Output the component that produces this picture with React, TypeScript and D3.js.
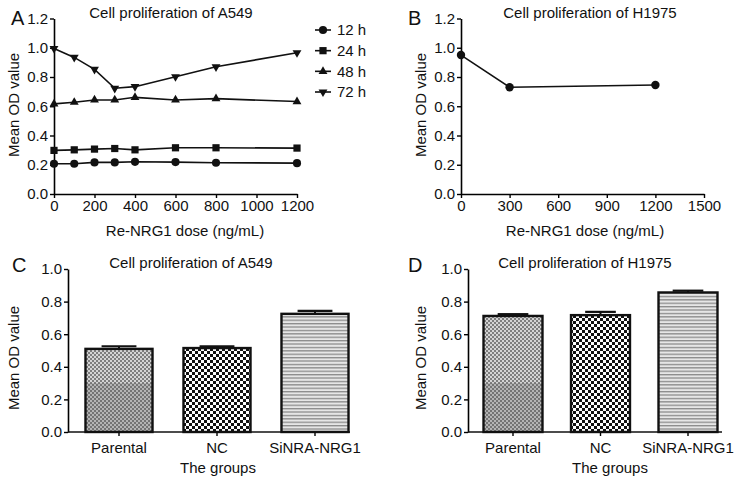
import { useEffect, useRef } from 'react';
import * as d3 from 'd3';

// ---- data ----
const doseA = [0, 100, 200, 300, 400, 600, 800, 1200];
const od12h = [0.207, 0.207, 0.216, 0.216, 0.22, 0.218, 0.214, 0.211];
const od24h = [0.298, 0.302, 0.307, 0.311, 0.302, 0.316, 0.316, 0.314];
const od48h = [0.616, 0.627, 0.643, 0.643, 0.661, 0.643, 0.652, 0.632];
const od72h = [0.995, 0.934, 0.852, 0.723, 0.734, 0.802, 0.87, 0.966];
const seriesNames = ['12 h', '24 h', '48 h', '72 h'];

const doseB = [0, 300, 1200];
const odB = [0.95, 0.73, 0.745];

const groups = ['Parental', 'NC', 'SiNRA-NRG1'];
const meanC = [0.51, 0.515, 0.725];
const errC = [0.016, 0.011, 0.018];
const meanD = [0.712, 0.717, 0.856];
const errD = [0.011, 0.02, 0.011];

const ticksA = [0, 200, 400, 600, 800, 1000, 1200];
const ticksB = [0, 300, 600, 900, 1200, 1500];
const ticksY12 = [0, 0.2, 0.4, 0.6, 0.8, 1.0, 1.2];
const ticksY10 = [0, 0.2, 0.4, 0.6, 0.8, 1.0];
const parentalShadeBelow = 0.3;

const FONT = '"Liberation Sans", Arial, Helvetica, sans-serif';
const FS = 15;

const App = () => {
  const svgRef = useRef<SVGSVGElement>(null);

  useEffect(() => {
    const svg = d3.select(svgRef.current);
    svg.selectAll('*').remove();
    svg.attr('font-family', FONT);

    // ==========================================
    // PATTERNS
    // ==========================================
    const defs = svg.append('defs');

    const checker = (id, size, bg, fg) => {
      const p = defs.append('pattern').attr('id', id)
        .attr('width', size * 2).attr('height', size * 2).attr('patternUnits', 'userSpaceOnUse');
      p.append('rect').attr('width', size * 2).attr('height', size * 2).attr('fill', bg);
      p.append('rect').attr('width', size).attr('height', size).attr('fill', fg);
      p.append('rect').attr('x', size).attr('y', size).attr('width', size).attr('height', size).attr('fill', fg);
    };
    checker('fine', 2, '#d4d4d4', '#7e7e7e');
    checker('fineDark', 2, '#b4b4b4', '#747474');
    checker('check', 3, '#ffffff', '#111');

    const stripes = defs.append('pattern').attr('id', 'stripes')
      .attr('width', 6).attr('height', 3.4).attr('patternUnits', 'userSpaceOnUse');
    stripes.append('rect').attr('width', 6).attr('height', 3.4).attr('fill', '#e6e6e6');
    stripes.append('rect').attr('y', 0).attr('width', 6).attr('height', 1.3).attr('fill', '#8a8a8a');

    const fills = ['url(#fine)', 'url(#check)', 'url(#stripes)'];

    // ==========================================
    // HELPERS
    // ==========================================
    const styleAxis = (g) => {
      g.select('.domain').attr('stroke-width', 1.6);
      g.selectAll('.tick line').attr('stroke-width', 1.4);
      g.selectAll('text').attr('font-size', FS).attr('fill', '#111');
    };

    const yAxis = (y, x0, ticks) => {
      const g = svg.append('g').attr('transform', `translate(${x0},0)`)
        .call(d3.axisLeft(y).tickValues(ticks).tickFormat(d3.format('.1f')).tickSize(4).tickSizeOuter(0).tickPadding(2));
      styleAxis(g);
    };

    const xAxis = (x, y0, ticks) => {
      const g = svg.append('g').attr('transform', `translate(0,${y0})`)
        .call(d3.axisBottom(x).tickValues(ticks).tickFormat(d3.format('d')).tickSize(4).tickSizeOuter(0).tickPadding(2));
      styleAxis(g);
    };

    const label = (x, y, text, size = FS, anchor = 'middle', rotate = false) => {
      const t = svg.append('text').attr('font-size', size).attr('fill', '#111')
        .attr('text-anchor', anchor).text(text);
      if (rotate) t.attr('transform', `translate(${x},${y}) rotate(-90)`);
      else t.attr('x', x).attr('y', y);
    };

    const symbols = [d3.symbolCircle, d3.symbolSquare, d3.symbolTriangle, d3.symbolTriangle];
    const symSizes = [52, 52, 34, 34];

    // ==========================================
    // PANEL A
    // ==========================================
    const xA = d3.scaleLinear().domain([0, 1200]).range([54, 297]);
    const yA = d3.scaleLinear().domain([0, 1.2]).range([194, 18.5]);

    xAxis(xA, yA(0), ticksA);
    yAxis(yA, xA(0), ticksY12);

    const seriesA = [od12h, od24h, od48h, od72h];
    const lineA = d3.line<number>().x((_, i) => xA(doseA[i])).y((d) => yA(d));
    seriesA.forEach((vals, s) => {
      svg.append('path').attr('d', lineA(vals)).attr('fill', 'none')
        .attr('stroke', '#111').attr('stroke-width', 1.6);
      svg.selectAll(null).data(vals).enter().append('path')
        .attr('d', d3.symbol().type(symbols[s]).size(symSizes[s])())
        .attr('transform', (d, i) => `translate(${xA(doseA[i])},${yA(d)})${s === 3 ? ' rotate(180)' : ''}`)
        .attr('fill', '#111');
    });

    // legend
    const legY = d3.scaleLinear().domain([0, 3]).range([30, 92]);
    seriesNames.forEach((name, s) => {
      const y = legY(s);
      svg.append('line').attr('x1', 315).attr('x2', 331).attr('y1', y).attr('y2', y)
        .attr('stroke', '#111').attr('stroke-width', 1.6);
      svg.append('path').attr('d', d3.symbol().type(symbols[s]).size(symSizes[s])())
        .attr('transform', `translate(323,${y})${s === 3 ? ' rotate(180)' : ''}`)
        .attr('fill', '#111');
      svg.append('text').attr('x', 337).attr('y', y).attr('dy', '0.36em')
        .attr('font-size', FS).attr('fill', '#111').text(name);
    });

    label(171, 18, 'Cell proliferation of A549');
    label(185, 236, 'Re-NRG1 dose (ng/mL)');
    label(19, 105, 'Mean OD value', FS, 'middle', true);
    label(11, 25, 'A', 20, 'start');

    // ==========================================
    // PANEL B
    // ==========================================
    const xB = d3.scaleLinear().domain([0, 1500]).range([461, 704]);
    const yB = d3.scaleLinear().domain([0, 1.2]).range([194, 18.5]);

    xAxis(xB, yB(0), ticksB);
    yAxis(yB, xB(0), ticksY12);

    const lineB = d3.line<number>().x((_, i) => xB(doseB[i])).y((d) => yB(d));
    svg.append('path').attr('d', lineB(odB)).attr('fill', 'none')
      .attr('stroke', '#111').attr('stroke-width', 1.6);
    svg.selectAll(null).data(odB).enter().append('circle')
      .attr('cx', (_, i) => xB(doseB[i])).attr('cy', (d) => yB(d)).attr('r', 4.2)
      .attr('fill', '#111');

    label(590, 18, 'Cell proliferation of H1975');
    label(585, 236, 'Re-NRG1 dose (ng/mL)');
    label(426, 105, 'Mean OD value', FS, 'middle', true);
    label(408, 25, 'B', 20, 'start');

    // ==========================================
    // BAR PANELS
    // ==========================================
    const barPanel = (means, errs, x0, x1, bandRange, pad, title, titleX, xLabelX, yLabelX, letter, letterX) => {
      const y = d3.scaleLinear().domain([0, 1]).range([432, 269]);
      const x = d3.scaleBand().domain(groups).range(bandRange).paddingInner(pad).paddingOuter(pad / 2);

      means.forEach((m, i) => {
        const bx = x(groups[i]);
        const bw = x.bandwidth();
        const cx = bx + bw / 2;
        svg.append('rect').attr('x', bx).attr('y', y(m)).attr('width', bw)
          .attr('height', y(0) - y(m)).attr('fill', fills[i]);
        if (i === 0) {
          svg.append('rect').attr('x', bx).attr('y', y(parentalShadeBelow)).attr('width', bw)
            .attr('height', y(0) - y(parentalShadeBelow)).attr('fill', 'url(#fineDark)');
        }
        svg.append('rect').attr('x', bx).attr('y', y(m)).attr('width', bw)
          .attr('height', y(0) - y(m)).attr('fill', 'none').attr('stroke', '#111').attr('stroke-width', 2.4);
        // error bar
        svg.append('line').attr('x1', cx).attr('x2', cx).attr('y1', y(m)).attr('y2', y(m + errs[i]))
          .attr('stroke', '#111').attr('stroke-width', 2);
        svg.append('line').attr('x1', cx - bw * 0.26).attr('x2', cx + bw * 0.26)
          .attr('y1', y(m + errs[i])).attr('y2', y(m + errs[i]))
          .attr('stroke', '#111').attr('stroke-width', 2.2);
      });

      yAxis(y, x0, ticksY10);

      const gx = svg.append('g').attr('transform', `translate(0,${y(0)})`)
        .call(d3.axisBottom(x).tickSize(4).tickSizeOuter(0).tickPadding(6));
      styleAxis(gx);
      gx.select('.domain').remove();
      svg.append('line').attr('x1', x0).attr('x2', x1).attr('y1', y(0)).attr('y2', y(0))
        .attr('stroke', '#111').attr('stroke-width', 1.6);

      label(titleX, 268, title);
      label(xLabelX, 473, 'The groups');
      label(yLabelX, 358, 'Mean OD value', FS, 'middle', true);
      label(letterX, 272, letter, 20, 'start');
    };

    barPanel(meanC, errC, 68, 350, [70, 364], 0.316, 'Cell proliferation of A549', 191, 218, 19, 'C', 12);
    barPanel(meanD, errD, 468, 722, [469.25, 731.75], 0.326, 'Cell proliferation of H1975', 585, 610, 426, 'D', 408);
  }, []);

  return (
    <svg
      ref={svgRef}
      width={746}
      height={479}
      style={{ position: 'absolute', left: 0, top: 0, background: '#fff' }}
    />
  );
};

export default App;
